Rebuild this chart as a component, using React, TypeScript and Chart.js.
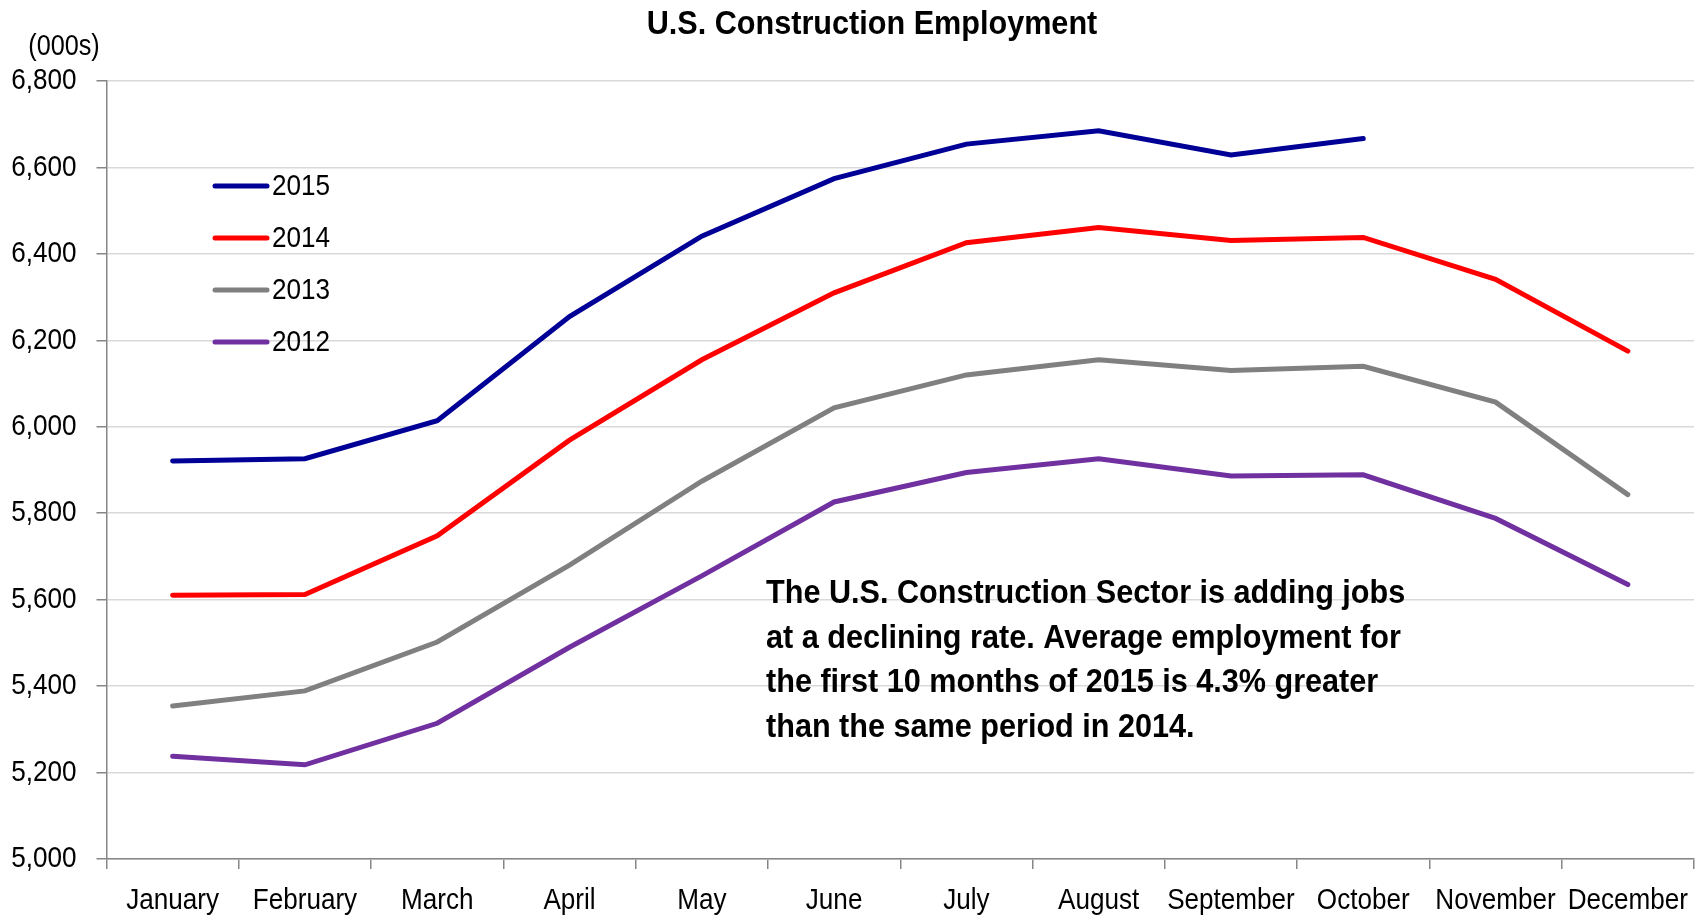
import React, { useEffect, useRef } from "react";
import { Chart, registerables } from "chart.js";

Chart.register(...registerables);

const months = ["January", "February", "March", "April", "May", "June", "July", "August", "September", "October", "November", "December"];
const y2015 = [5921, 5926, 6014, 6255, 6441, 6574, 6654, 6685, 6629, 6667];
const y2014 = [5610, 5612, 5748, 5969, 6155, 6310, 6426, 6461, 6431, 6438, 6341, 6175];
const y2013 = [5354, 5389, 5502, 5680, 5874, 6044, 6120, 6155, 6130, 6140, 6057, 5843];
const y2012 = [5238, 5218, 5314, 5490, 5655, 5826, 5894, 5926, 5886, 5889, 5788, 5635];
const seriesNames = ["2015", "2014", "2013", "2012"];
const seriesColors = ["#000096", "#FF0000", "#808080", "#7030A0"];
const titleText = "U.S. Construction Employment";
const unitText = "(000s)";
const noteLines = [
  "The U.S. Construction Sector is adding jobs",
  "at a declining rate. Average employment for",
  "the first 10 months of 2015 is 4.3% greater",
  "than the same period in 2014.",
];

const FONT = "'Liberation Sans', Arial, sans-serif";
const NARROW = 0.87;
const NARROW_BOLD = 0.9;

function narrowText(ctx: CanvasRenderingContext2D, text: string, x: number, y: number, align: CanvasTextAlign, font: string, sx: number = NARROW, baseline: CanvasTextBaseline = "middle") {
  ctx.save();
  ctx.translate(x, y);
  ctx.scale(sx, 1);
  ctx.font = font;
  ctx.textAlign = align;
  ctx.textBaseline = baseline;
  ctx.fillStyle = "#000";
  ctx.fillText(text, 0, 0);
  ctx.restore();
}

export default function App() {
  const ref = useRef<HTMLCanvasElement | null>(null);
  useEffect(() => {
    document.body.style.margin = "0";
    const canvas = ref.current!;
    const overlay = {
      id: "overlay",
      afterDraw(chart: any) {
        const ctx: CanvasRenderingContext2D = chart.ctx;
        const xs = chart.scales.x;
        const ys = chart.scales.y;
        xs.ticks.forEach((t: any, i: number) => {
          narrowText(ctx, String(chart.data.labels[t.value ?? i]), xs.getPixelForTick(i), 901, "center", `30px ${FONT}`);
        });
        ys.ticks.forEach((t: any) => {
          narrowText(ctx, Number(t.value).toLocaleString("en-US"), ys.left + ys.width - 30, ys.getPixelForValue(t.value), "right", `30px ${FONT}`);
        });
        narrowText(ctx, titleText, 872, 25, "center", `bold 34px ${FONT}`, NARROW_BOLD);
        narrowText(ctx, unitText, 64, 47, "center", `29px ${FONT}`);
        const ly = [186, 238, 290, 342];
        chart.data.datasets.forEach((ds: any, i: number) => {
          ctx.save();
          ctx.strokeStyle = ds.borderColor;
          ctx.lineWidth = 5;
          ctx.lineCap = "round";
          ctx.beginPath();
          ctx.moveTo(215, ly[i]);
          ctx.lineTo(267, ly[i]);
          ctx.stroke();
          ctx.restore();
          narrowText(ctx, ds.label, 272, ly[i] + 1, "left", `30px ${FONT}`);
        });
        noteLines.forEach((l, i) => narrowText(ctx, l, 766, 603 + i * 44.5, "left", `bold 34px ${FONT}`, NARROW_BOLD, "alphabetic"));
      },
    };
    const data = [y2015, y2014, y2013, y2012];
    const chart = new Chart(canvas, {
      type: "line",
      data: {
        labels: months,
        datasets: seriesNames.map((n, i) => ({
          label: n,
          data: data[i],
          borderColor: seriesColors[i],
          backgroundColor: seriesColors[i],
          borderWidth: 5,
          pointRadius: 0,
          borderCapStyle: "round" as const,
          tension: 0,
          fill: false,
        })),
      },
      options: {
        responsive: false,
        animation: false,
        layout: { padding: { left: 0, right: 8, top: 81, bottom: 0 } },
        plugins: { legend: { display: false }, title: { display: false }, tooltip: { enabled: false } },
        scales: {
          x: {
            type: "category",
            offset: true,
            grid: { offset: true, drawOnChartArea: false, drawTicks: true, tickLength: 10, color: "#868686", lineWidth: 1.5 },
            border: { display: true, color: "#868686", width: 1.5 },
            ticks: { display: false, autoSkip: false },
            afterFit(scale: any) { scale.height = 58; },
          },
          y: {
            min: 5000,
            max: 6800,
            ticks: { stepSize: 200, display: false },
            grid: { color: "#d9d9d9", lineWidth: 1.5, tickLength: 10, tickColor: "#868686" } as any,
            border: { display: true, color: "#868686", width: 1.5 },
            afterFit(scale: any) { scale.width = 106.5; },
          },
        },
      },
      plugins: [overlay],
    });
    return () => chart.destroy();
  }, []);
  return (
    <div style={{ position: "absolute", left: 0, top: 0, width: 1702, height: 917 }}>
      <canvas ref={ref} width={1702} height={917} style={{ width: 1702, height: 917 }} />
    </div>
  );
}
